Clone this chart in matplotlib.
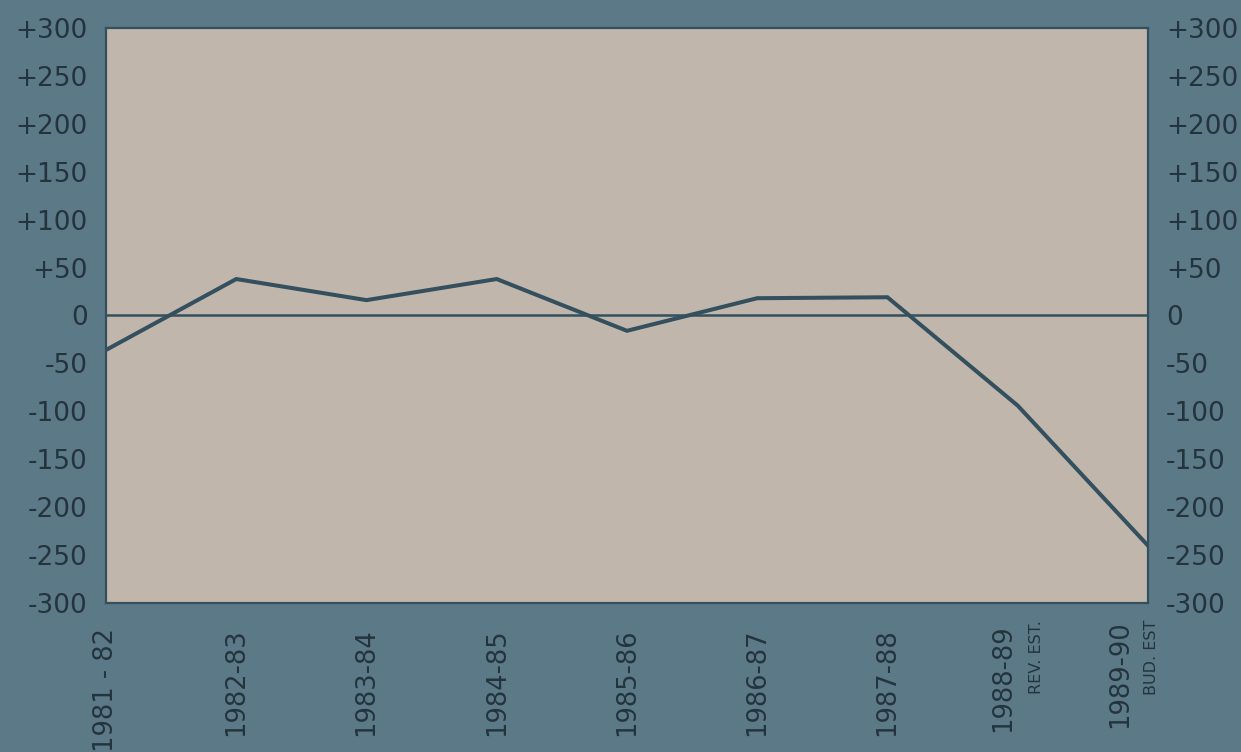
import matplotlib.pyplot as plt
import matplotlib.transforms as mtransforms

years = ["1981 - 82", "1982-83", "1983-84", "1984-85", "1985-86",
         "1986-87", "1987-88", "1988-89", "1989-90"]
notes = ["", "", "", "", "", "", "", "REV. EST.", "BUD. EST"]
balance = [-36, 38, 16, 38, -16, 18, 19, -94, -240]
y_ticks = [300, 250, 200, 150, 100, 50, 0, -50, -100, -150, -200, -250, -300]
y_labels = ["+300", "+250", "+200", "+150", "+100", "+50", "0",
            "-50", "-100", "-150", "-200", "-250", "-300"]


def main():
    """draw the chart"""
    outer = "#5c7987"
    paper = "#c0b6ac"
    ink = "#34505e"
    text_c = "#24343d"

    plt.rcParams["font.family"] = ["DejaVu Sans"]

    fig = plt.figure(figsize=(12.41, 7.52), dpi=100, facecolor=outer)
    ax = fig.add_axes([0.0854, 0.198, 0.8396, 0.765])
    ax.set_facecolor(paper)

    x = list(range(len(years)))
    ax.axhline(0, color=ink, lw=1.8, zorder=2)
    ax.plot(x, balance, color=ink, lw=2.9, solid_joinstyle="miter", zorder=3)

    ax.set_xlim(0, len(years) - 1)
    ax.set_ylim(-300, 300)

    ax.set_yticks(y_ticks)
    ax.set_yticklabels(y_labels, fontsize=19, color=text_c)
    ax.tick_params(axis="y", length=0, pad=13, labelright=True, right=False)

    ax.set_xticks(x)
    ax.set_xticklabels(years, rotation=90, fontsize=18.5, color=text_c,
                       va="top", ha="center")
    ax.tick_params(axis="x", length=0, pad=18)

    # labels that carry a note are pushed left to make room for it
    shifts = {7: (-0.15, 0.04), 8: (-0.28, 0.08)}
    for i, lab in enumerate(ax.get_xticklabels()):
        if i in shifts:
            dx, dy = shifts[i]
            lab.set_transform(lab.get_transform() + mtransforms.ScaledTranslation(
                dx, dy, fig.dpi_scale_trans))

    for side in ax.spines.values():
        side.set_color(ink)
        side.set_linewidth(1.6)

    trans = mtransforms.blended_transform_factory(ax.transData, ax.transAxes)
    note_pos = {7: (0.19, -0.17), 8: (0.04, -0.17)}
    for i, note in enumerate(notes):
        if note:
            dx, dy = note_pos[i]
            offset = mtransforms.ScaledTranslation(dx, dy, fig.dpi_scale_trans)
            ax.text(i, 0, note, rotation=90, fontsize=11.5, color=text_c,
                    ha="center", va="top", transform=trans + offset)

    fig.savefig("out.png", dpi=100, facecolor=outer)


if __name__ == "__main__":
    main()
